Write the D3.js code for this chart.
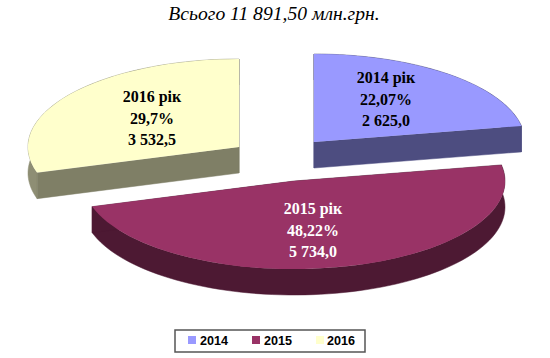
<!DOCTYPE html>
<html><head><meta charset="utf-8">
<script src="https://cdn.jsdelivr.net/npm/d3@7/dist/d3.min.js"></script>
<style>html,body{margin:0;padding:0;background:#fff}svg{display:block}</style></head>
<body><div id="c"></div>
<script>
const titleText = "Всього 11 891,50 млн.грн.";
const years = ["2014", "2015", "2016"];
const values = [2625.0, 5734.0, 3532.5];
const yearLabels = ["2014 рік", "2015 рік", "2016 рік"];
const percentLabels = ["22,07%", "48,22%", "29,7%"];
const valueLabels = ["2 625,0", "5 734,0", "3 532,5"];
const colors = ["#9999ff", "#993366", "#ffffcc"];
const sideColors = ["#4d4d80", "#4d1933", "#7f7f66"];
const rimColors = ["#4d4d80", "#4d1933", "#8e8e74"];
const textColors = ["#000", "#fff", "#000"];

// layout
const W = 550, H = 358, rx = 211, ry = 88, depth = 26;
const centers = [[314, 142], [294, 181], [239, 147]];
const labelPos = [[386, 83], [313, 214], [152, 102]];
const lineStep = 21.7;
const legendX = [188, 252, 316];
const legendTextX = [200, 264, 327];

const svg = d3.select("#c").append("svg").attr("width", W).attr("height", H)
  .style("font-family", "'Liberation Serif', serif");

svg.append("text").attr("x", 274).attr("y", 20).attr("text-anchor", "middle")
  .attr("font-style", "italic").attr("font-size", 19.6).attr("fill", "#000").text(titleText);

const pie = d3.pie().sort(null).value(d => d)(values);
const arc = d3.arc().innerRadius(0).outerRadius(1);
const pt = (a, cx, cy) => [cx + rx * Math.sin(a), cy - ry * Math.cos(a)];

pie.forEach((s, i) => {
  const [cx, cy] = centers[i];
  const g = svg.append("g");
  const a0 = s.startAngle, a1 = s.endAngle;
  const angles = d3.range(0, 81).map(k => a0 + (a1 - a0) * k / 80);
  const rim = angles.map(a => pt(a, cx, cy));
  const poly = (p, c) => g.append("path").attr("d", d3.line()(p)+"Z")
      .attr("fill", c).attr("stroke", c).attr("stroke-width", .5);
  const down = p => [p[0], p[1] + depth];
  // outer wall first, then radial faces, extruded downward
  poly(rim.concat(rim.slice().reverse().map(down)), rimColors[i]);
  [[[cx, cy], rim[0]], [[cx, cy], rim[80]]].forEach(e => poly([e[0], e[1], down(e[1]), down(e[0])], sideColors[i]));
  // top surface: unit-circle arc scaled to the ellipse
  g.append("path").attr("d", arc(s))
    .attr("transform", `translate(${cx},${cy}) scale(${rx},${ry})`)
    .attr("fill", colors[i]);
  [yearLabels[i], percentLabels[i], valueLabels[i]].forEach((t, k) => {
    svg.append("text").attr("x", labelPos[i][0]).attr("y", labelPos[i][1] + k * lineStep)
      .attr("text-anchor", "middle").attr("font-weight", "bold").attr("font-size", 16)
      .attr("fill", textColors[i]).text(t);
  });
});

// legend
svg.append("rect").attr("x", 175).attr("y", 330).attr("width", 190).attr("height", 22)
  .attr("fill", "#fff").attr("stroke", "#555").attr("stroke-width", 1.5);
years.forEach((y, i) => {
  svg.append("rect").attr("x", legendX[i]).attr("y", 336).attr("width", 8).attr("height", 8).attr("fill", colors[i]);
  svg.append("text").attr("x", legendTextX[i]).attr("y", 344.5)
    .attr("font-family", "'Liberation Sans', sans-serif").attr("font-weight", "bold")
    .attr("font-size", 12.6).attr("fill", "#000").text(y);
});
</script></body></html>
